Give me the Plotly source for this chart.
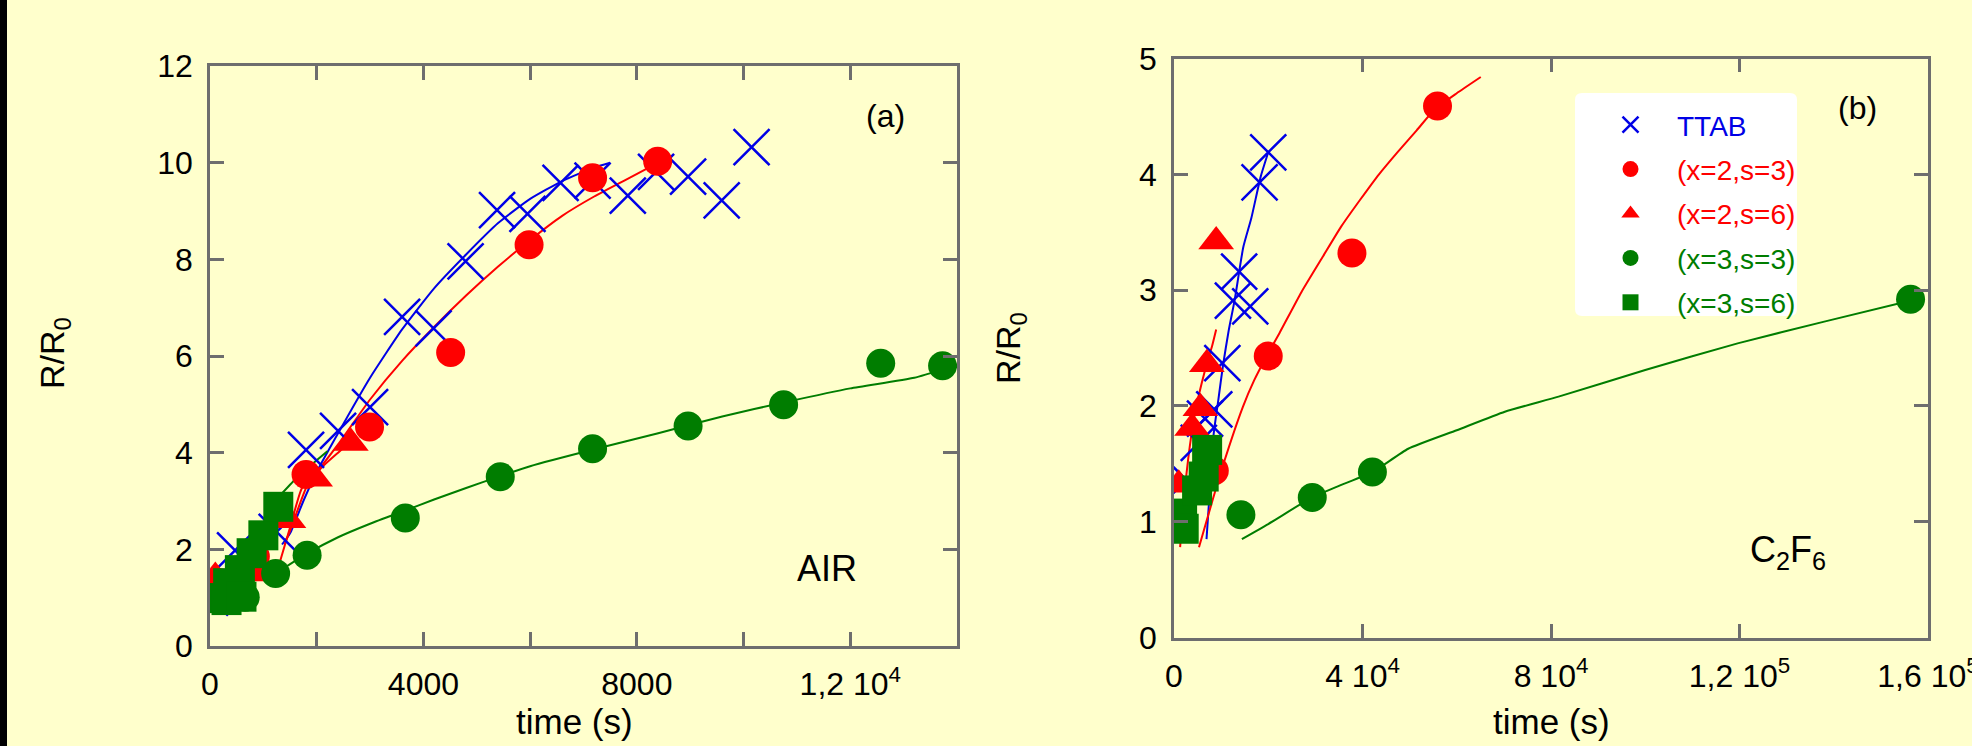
import plotly.graph_objects as go

W, H = 1972, 746

# ---------------- Panel (a): AIR ----------------
air_ttab_t = [0, 470, 1250, 1800, 2400, 3000, 3600, 4190, 4790, 5380, 5950, 6570, 7170, 7830, 8360, 8960, 9590, 10150]
air_ttab_r = [1.0, 1.98, 2.36, 4.06, 4.45, 4.94, 6.81, 6.57, 7.96, 9.02, 8.94, 9.58, 9.63, 9.32, 9.81, 9.71, 9.22, 10.32]
air_ttab_fit_t = [1350, 1500, 1750, 2000, 2400, 3000, 3600, 4200, 4800, 5400, 6000, 6600, 7200, 7500]
air_ttab_fit_r = [2.1, 2.33, 3.0, 3.6, 4.4, 5.55, 6.55, 7.4, 8.1, 8.75, 9.25, 9.62, 9.9, 10.0]

air_x2s3_t = [0, 190, 850, 1800, 2990, 4510, 5980, 7170, 8390]
air_x2s3_r = [1.0, 1.31, 1.85, 3.55, 4.53, 6.07, 8.30, 9.69, 10.03]
air_x2s3_fit_t = [1300, 1500, 1720, 2000, 2400, 3000, 3600, 4200, 4800, 5400, 6000, 6600, 7200, 7800, 8400]
air_x2s3_fit_r = [1.7, 2.45, 3.26, 3.6, 4.17, 5.1, 5.9, 6.6, 7.25, 7.85, 8.4, 8.9, 9.3, 9.65, 10.0]

air_x2s6_t = [0, 100, 940, 1470, 1970, 2640]
air_x2s6_r = [1.0, 1.43, 1.5, 2.6, 3.46, 4.2]
air_x2s6_fit_t = [1400, 1530, 1810, 2100, 2400, 2700]
air_x2s6_fit_r = [2.1, 2.47, 3.29, 3.7, 4.0, 4.3]

air_x3s3_t = [0, 330, 660, 1230, 1820, 3660, 5440, 7170, 8960, 10750, 12570, 13730]
air_x3s3_r = [1.0, 0.95, 1.01, 1.50, 1.88, 2.65, 3.50, 4.08, 4.55, 4.99, 5.85, 5.80]
air_x3s3_fit_t = [1230, 1800, 2400, 3000, 3600, 4200, 4800, 5400, 6000, 7200, 8400, 9600, 10800, 12000, 13200, 13800]
air_x3s3_fit_r = [1.5, 1.9, 2.25, 2.53, 2.78, 3.03, 3.27, 3.5, 3.72, 4.07, 4.4, 4.75, 5.05, 5.33, 5.55, 5.75]

air_x3s6_t = [0, 310, 340, 560, 590, 780, 1000, 1280]
air_x3s6_r = [0.99, 0.95, 1.30, 1.57, 1.02, 1.92, 2.29, 2.88]
air_x3s6_fit_t = [1300, 1600, 1900, 2200]
air_x3s6_fit_r = [3.1, 3.45, 3.75, 4.03]

# ---------------- Panel (b): C2F6 ----------------
c2f6_ttab_t = [0, 660, 2630, 5260, 6580, 8550, 10260, 12500, 13820, 16180, 18160, 20000]
c2f6_ttab_r = [1.0, 0.99, 1.36, 1.68, 1.89, 1.97, 2.37, 2.91, 3.16, 2.86, 3.93, 4.19]
c2f6_ttab_fit_t = [6900, 7400, 8400, 9400, 10400, 11600, 12900, 14700, 16400, 18400, 20000]
c2f6_ttab_fit_r = [0.85, 1.15, 1.75, 2.05, 2.35, 2.65, 2.92, 3.37, 3.62, 3.98, 4.19]

c2f6_x2s3_t = [0, 8550, 20000, 37760, 55920]
c2f6_x2s3_r = [1.0, 1.44, 2.43, 3.32, 4.59]
c2f6_x2s3_fit_t = [5300, 8000, 10500, 14600, 17000, 19800, 22400, 27000, 31600, 35500, 39500, 43500, 47400, 51500, 55300, 60000, 65100]
c2f6_x2s3_fit_r = [0.78, 1.16, 1.5, 1.99, 2.22, 2.44, 2.63, 2.98, 3.29, 3.55, 3.78, 4.0, 4.19, 4.38, 4.56, 4.7, 4.84]

c2f6_x2s6_t = [0, 1000, 3840, 5600, 6970, 8950]
c2f6_x2s6_r = [1.0, 1.32, 1.81, 1.98, 2.36, 3.42]
c2f6_x2s6_fit_t = [1300, 2000, 3350, 4500, 5900, 7200, 8100, 8950]
c2f6_x2s6_fit_r = [0.78, 1.15, 1.65, 1.95, 2.2, 2.4, 2.52, 2.66]

c2f6_x3s3_t = [0, 14200, 29340, 42100, 156300]
c2f6_x3s3_r = [1.0, 1.06, 1.21, 1.43, 2.92]
c2f6_x3s3_fit_t = [14400, 20000, 29300, 35000, 42200, 49700, 60000, 70200, 81600, 100000, 119600, 138200, 156400]
c2f6_x3s3_fit_r = [0.85, 0.98, 1.21, 1.31, 1.43, 1.63, 1.79, 1.95, 2.08, 2.31, 2.54, 2.73, 2.91]

c2f6_x3s6_t = [0, 1720, 2060, 4900, 6300, 7030]
c2f6_x3s6_r = [1.01, 1.07, 0.94, 1.27, 1.39, 1.62]

# ---------------- tick labels ----------------
air_xtick_vals = [0, 2000, 4000, 6000, 8000, 10000, 12000, 14000]
air_xtick_text = ["0", "", "4000", "", "8000", "", "1,2 10<sup>4</sup>", ""]
air_ytick_vals = [0, 2, 4, 6, 8, 10, 12]
c2f6_xtick_vals = [0, 40000, 80000, 120000, 160000]
c2f6_xtick_text = ["0", "4 10<sup>4</sup>", "8 10<sup>4</sup>", "1,2 10<sup>5</sup>", "1,6 10<sup>5</sup>"]
c2f6_ytick_vals = [0, 1, 2, 3, 4, 5]

BLUE = "#0000e6"
RED = "#ff0000"
GREEN = "#007d00"
BG = "#ffffcc"
AXC = "#6e6e6e"
FONT = "Liberation Sans, Arial, sans-serif"

series = {
    "ttab": dict(label="TTAB", color=BLUE, symbol="x-thin", size=36),
    "x2s3": dict(label="(x=2,s=3)", color=RED, symbol="circle", size=29),
    "x2s6": dict(label="(x=2,s=6)", color=RED, symbol="triangle-up", size=31),
    "x3s3": dict(label="(x=3,s=3)", color=GREEN, symbol="circle", size=29),
    "x3s6": dict(label="(x=3,s=6)", color=GREEN, symbol="square", size=30),
}

panels = [
    ("x", "y", False, {
        "ttab": (air_ttab_t, air_ttab_r, air_ttab_fit_t, air_ttab_fit_r),
        "x2s3": (air_x2s3_t, air_x2s3_r, air_x2s3_fit_t, air_x2s3_fit_r),
        "x2s6": (air_x2s6_t, air_x2s6_r, air_x2s6_fit_t, air_x2s6_fit_r),
        "x3s3": (air_x3s3_t, air_x3s3_r, air_x3s3_fit_t, air_x3s3_fit_r),
        "x3s6": (air_x3s6_t, air_x3s6_r, air_x3s6_fit_t, air_x3s6_fit_r),
    }),
    ("x2", "y2", True, {
        "ttab": (c2f6_ttab_t, c2f6_ttab_r, c2f6_ttab_fit_t, c2f6_ttab_fit_r),
        "x2s3": (c2f6_x2s3_t, c2f6_x2s3_r, c2f6_x2s3_fit_t, c2f6_x2s3_fit_r),
        "x2s6": (c2f6_x2s6_t, c2f6_x2s6_r, c2f6_x2s6_fit_t, c2f6_x2s6_fit_r),
        "x3s3": (c2f6_x3s3_t, c2f6_x3s3_r, c2f6_x3s3_fit_t, c2f6_x3s3_fit_r),
        "x3s6": (c2f6_x3s6_t, c2f6_x3s6_r, None, None),
    }),
]

fig = go.Figure()

for xa, ya, legend_here, data in panels:
    # fitted curves underneath the symbols
    for key, (t, r, ft, fr) in data.items():
        if ft is None:
            continue
        s = series[key]
        fig.add_trace(go.Scatter(
            x=ft, y=fr, mode="lines", xaxis=xa, yaxis=ya,
            line=dict(color=s["color"], width=2, shape="spline", smoothing=0.5),
            legendgroup=key, showlegend=False, hoverinfo="skip"))
    # measured points
    for key, (t, r, ft, fr) in data.items():
        s = series[key]
        marker = dict(symbol=s["symbol"], size=s["size"], color=s["color"])
        if s["symbol"] == "x-thin":
            marker["line"] = dict(color=s["color"], width=2.5)
        else:
            marker["line"] = dict(width=0)
        fig.add_trace(go.Scatter(
            x=t, y=r, mode="markers", xaxis=xa, yaxis=ya, marker=marker,
            name=f"<span style='color:{s['color']}'>{s['label']}</span>",
            legendgroup=key, showlegend=legend_here))


def px_x(p):
    return p / W


def px_y(p):
    return 1 - p / H


axis_common = dict(
    showline=True, linecolor=AXC, linewidth=2.5, mirror="ticks",
    ticks="inside", ticklen=14, tickwidth=2.5, tickcolor=AXC,
    showgrid=False, zeroline=False, tickmode="array", automargin=False,
    tickfont=dict(family=FONT, size=32, color="black"),
)

fig.update_layout(
    template="none",
    width=W, height=H,
    margin=dict(l=0, r=0, t=0, b=0, autoexpand=False),
    paper_bgcolor=BG, plot_bgcolor=BG,
    font=dict(family=FONT, color="black"),
    xaxis=dict(domain=[px_x(210), px_x(957)], range=[0, 14000], anchor="y",
               tickvals=air_xtick_vals, ticktext=air_xtick_text,
               ticklabelstandoff=8, **axis_common),
    yaxis=dict(domain=[px_y(646), px_y(66)], range=[0, 12], anchor="x",
               tickvals=air_ytick_vals, ticklabelstandoff=8, **axis_common),
    xaxis2=dict(domain=[px_x(1174), px_x(1928)], range=[0, 160000], anchor="y2",
                tickvals=c2f6_xtick_vals, ticktext=c2f6_xtick_text,
                ticklabelstandoff=8, ticklabeloverflow="allow", **axis_common),
    yaxis2=dict(domain=[px_y(637.5), px_y(58.5)], range=[0, 5], anchor="x2",
                tickvals=c2f6_ytick_vals, ticklabelstandoff=8, **axis_common),
    showlegend=True,
    legend=dict(
        x=px_x(1584), y=px_y(100), xanchor="left", yanchor="top",
        bgcolor="rgba(0,0,0,0)", borderwidth=0,
        font=dict(family=FONT, size=28),
        itemwidth=83, traceorder="grouped", tracegroupgap=5,
        itemclick=False, itemdoubleclick=False,
    ),
)

# white rounded box behind the legend
bx0, bx1, by0, by1, rad = 1575, 1797, 93, 316, 7
path = (f"M {px_x(bx0 + rad)},{px_y(by0)} L {px_x(bx1 - rad)},{px_y(by0)} "
        f"Q {px_x(bx1)},{px_y(by0)} {px_x(bx1)},{px_y(by0 + rad)} "
        f"L {px_x(bx1)},{px_y(by1 - rad)} Q {px_x(bx1)},{px_y(by1)} {px_x(bx1 - rad)},{px_y(by1)} "
        f"L {px_x(bx0 + rad)},{px_y(by1)} Q {px_x(bx0)},{px_y(by1)} {px_x(bx0)},{px_y(by1 - rad)} "
        f"L {px_x(bx0)},{px_y(by0 + rad)} Q {px_x(bx0)},{px_y(by0)} {px_x(bx0 + rad)},{px_y(by0)} Z")
fig.add_shape(type="path", path=path, xref="paper", yref="paper",
              fillcolor="white", line=dict(width=0), layer="below")

# dark strip along the left edge
fig.add_shape(type="rect", xref="paper", yref="paper", x0=0, x1=px_x(7), y0=0, y1=1,
              fillcolor="black", line=dict(width=0), layer="above")


def label(text, x, y, size=30, angle=0):
    fig.add_annotation(text=text, x=px_x(x), y=px_y(y), xref="paper", yref="paper",
                       xanchor="center", yanchor="middle", showarrow=False,
                       textangle=angle, font=dict(family=FONT, size=size, color="black"))


label("R/R<sub>0</sub>", 54, 353, 34, -90)
label("R/R<sub>0</sub>", 1010, 348, 34, -90)
label("time (s)", 574, 721, 35)
label("time (s)", 1551, 721, 35)
label("(a)", 885, 116, 32)
label("AIR", 827, 568, 36)
label("(b)", 1857, 108, 32)
label("C<sub>2</sub>F<sub>6</sub>", 1788, 552, 36)

fig.write_html("out.html")
